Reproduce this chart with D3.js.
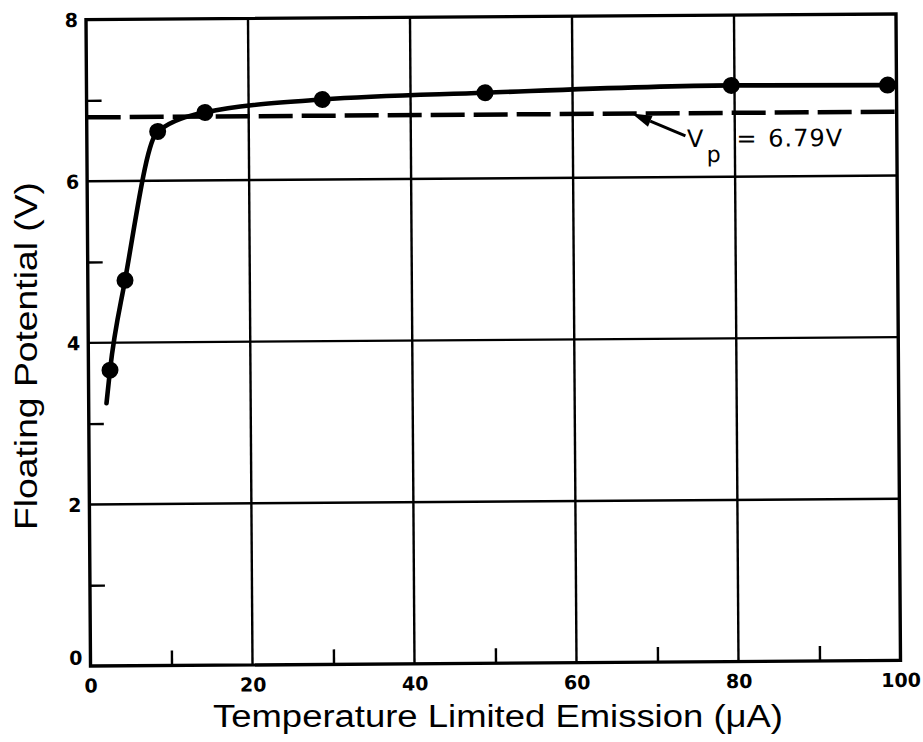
<!DOCTYPE html>
<html>
<head>
<meta charset="utf-8">
<script src="https://cdn.jsdelivr.net/npm/d3@7"></script>
<style>
  html, body { margin: 0; padding: 0; background: #fff; }
  svg { display: block; }
</style>
</head>
<body>
<svg id="chart" width="923" height="742"></svg>
<script>
// Measured floating potential versus temperature-limited emission current
const emission = [2.66, 4.59, 8.75, 14.6, 29.1, 49.2, 79.6, 98.9];      // µA
const potential = [3.66, 4.77, 6.61, 6.84, 6.99, 7.06, 7.13, 7.12];     // V

// Hand-drawn fit through the measurements (starts a little below the first point)
const fitEmission = [2.2, 2.66, 4.59, 8.75, 14.6, 29.1, 49.2, 79.6, 98.9];
const fitPotential = [3.25, 3.66, 4.77, 6.61, 6.84, 6.99, 7.06, 7.13, 7.12];

// Plasma potential reference
const plasmaPotential = 6.79;
const plasmaLabel = "6.79V";

// Axes
const xDomain = [0, 100];
const yDomain = [0, 8];
const xMajorTicks = [0, 20, 40, 60, 80, 100];
const xMinorTicks = [10, 30, 50, 70, 90];
const yMajorTicks = [0, 2, 4, 6, 8];
const yMinorTicks = [1, 3, 5, 7];
const xTitle = "Temperature Limited Emission (\u03bcA)";
const yTitle = "Floating Potential (V)";

// Annotation anchors (data units)
const arrowTip = [67.3, 6.79];
const arrowTail = [73.9, 6.51];
const labelAnchor = [74.1, 6.37];

const svg = d3.select("#chart");
const plot = { left: 88.25, right: 898.25, top: 16.75, bottom: 663.25 };
const cx = (plot.left + plot.right) / 2, cy = (plot.top + plot.bottom) / 2;

const x = d3.scaleLinear().domain(xDomain).range([plot.left, plot.right]);
const y = d3.scaleLinear().domain(yDomain).range([plot.bottom, plot.top]);

// The drawn graph sits very slightly tilted on the page
const g = svg.append("g").attr("transform", `rotate(-0.4, ${cx}, ${cy})`);

const ink = "#000";
const tickFont = "'DejaVu Sans', sans-serif";

// Interior grid
g.append("g").selectAll("line.vgrid")
  .data(xMajorTicks.filter(d => d > xDomain[0] && d < xDomain[1]))
  .join("line")
  .attr("x1", d => x(d)).attr("x2", d => x(d))
  .attr("y1", y(yDomain[0])).attr("y2", y(yDomain[1]))
  .attr("stroke", ink).attr("stroke-width", 2.4);

g.append("g").selectAll("line.hgrid")
  .data(yMajorTicks.filter(d => d > yDomain[0] && d < yDomain[1]))
  .join("line")
  .attr("x1", x(xDomain[0])).attr("x2", x(xDomain[1]))
  .attr("y1", d => y(d)).attr("y2", d => y(d))
  .attr("stroke", ink).attr("stroke-width", 2.4);

// Minor ticks pointing into the plot
const xAxisMinor = d3.axisTop(x).tickValues(xMinorTicks).tickSize(15).tickFormat("");
g.append("g").attr("transform", `translate(0,${y(yDomain[0])})`).call(xAxisMinor)
  .call(a => a.select(".domain").remove())
  .call(a => a.selectAll("line").attr("stroke", ink).attr("stroke-width", 2.4));

const yAxisMinor = d3.axisRight(y).tickValues(yMinorTicks).tickSize(15).tickFormat("");
g.append("g").attr("transform", `translate(${x(xDomain[0])},0)`).call(yAxisMinor)
  .call(a => a.select(".domain").remove())
  .call(a => a.selectAll("line").attr("stroke", ink).attr("stroke-width", 2.4));

// Major tick labels
const xAxis = d3.axisBottom(x).tickValues(xMajorTicks).tickSize(0).tickPadding(13).tickFormat(d3.format("d"));
g.append("g").attr("transform", `translate(0,${y(yDomain[0])})`).call(xAxis)
  .call(a => a.select(".domain").remove())
  .call(a => a.selectAll("text").attr("fill", ink).attr("font-size", 19)
    .attr("font-family", tickFont).attr("font-weight", "bold"));

const yAxis = d3.axisLeft(y).tickValues(yMajorTicks).tickSize(0).tickPadding(8).tickFormat(d3.format("d"));
g.append("g").attr("transform", `translate(${x(xDomain[0])},0)`).call(yAxis)
  .call(a => a.select(".domain").remove())
  .call(a => a.selectAll("text").attr("fill", ink).attr("font-size", 19)
    .attr("font-family", tickFont).attr("font-weight", "bold")
    .attr("dy", d => d === yDomain[0] ? "-0.1em" : "0.36em"));

// Frame
g.append("rect")
  .attr("x", x(xDomain[0])).attr("y", y(yDomain[1]))
  .attr("width", x(xDomain[1]) - x(xDomain[0]))
  .attr("height", y(yDomain[0]) - y(yDomain[1]))
  .attr("fill", "none").attr("stroke", ink).attr("stroke-width", 3.4);

// Plasma potential dashed line
g.append("line")
  .attr("x1", x(xDomain[0])).attr("x2", x(xDomain[1]))
  .attr("y1", y(plasmaPotential)).attr("y2", y(plasmaPotential))
  .attr("stroke", ink).attr("stroke-width", 4.5)
  .attr("stroke-dasharray", "34 9");

// Fitted curve
const fit = fitEmission.map((e, i) => [e, fitPotential[i]]);
g.append("path")
  .datum(fit)
  .attr("fill", "none").attr("stroke", ink).attr("stroke-width", 4.6)
  .attr("stroke-linecap", "round").attr("stroke-linejoin", "round")
  .attr("d", d3.line().x(d => x(d[0])).y(d => y(d[1])).curve(d3.curveMonotoneX));

// Data points
g.append("g").selectAll("circle")
  .data(emission.map((e, i) => [e, potential[i]]))
  .join("circle")
  .attr("cx", d => x(d[0])).attr("cy", d => y(d[1]))
  .attr("r", 8.5).attr("fill", ink);

// Arrow to the dashed line
const tipX = x(arrowTip[0]), tipY = y(arrowTip[1]);
const tailX = x(arrowTail[0]), tailY = y(arrowTail[1]);
const ang = Math.atan2(tipY - tailY, tipX - tailX);
const headLen = 20, headHalf = 6;
const bx = tipX - headLen * Math.cos(ang), by = tipY - headLen * Math.sin(ang);
g.append("line")
  .attr("x1", tailX).attr("y1", tailY).attr("x2", bx).attr("y2", by)
  .attr("stroke", ink).attr("stroke-width", 3);
g.append("path")
  .attr("d", d3.line()([
    [tipX, tipY],
    [bx + headHalf * Math.sin(ang), by - headHalf * Math.cos(ang)],
    [bx - headHalf * Math.sin(ang), by + headHalf * Math.cos(ang)]
  ]) + "Z")
  .attr("fill", ink);

// Label: V_p = 6.79V
const lab = g.append("text")
  .attr("x", x(labelAnchor[0])).attr("y", y(labelAnchor[1]))
  .attr("font-family", tickFont).attr("font-size", 24).attr("fill", ink);
lab.append("tspan").text("V");
lab.append("tspan").attr("dx", 3).attr("dy", 15).attr("font-size", 22).text("p");
lab.append("tspan").attr("dx", 16).attr("dy", -15).text("= ");
lab.append("tspan").attr("dx", 4).attr("letter-spacing", 1).text(plasmaLabel);

// Axis titles
svg.append("text")
  .attr("x", 498).attr("y", 727)
  .attr("text-anchor", "middle")
  .attr("font-family", "'Liberation Sans', Arial, sans-serif")
  .attr("font-size", 31).attr("fill", ink)
  .attr("textLength", 570).attr("lengthAdjust", "spacingAndGlyphs")
  .text(xTitle);

svg.append("text")
  .attr("transform", "translate(37,356) rotate(-90)")
  .attr("text-anchor", "middle")
  .attr("font-family", "'Liberation Sans', Arial, sans-serif")
  .attr("font-size", 31).attr("fill", ink)
  .attr("textLength", 348).attr("lengthAdjust", "spacingAndGlyphs")
  .text(yTitle);
</script>
</body>
</html>
